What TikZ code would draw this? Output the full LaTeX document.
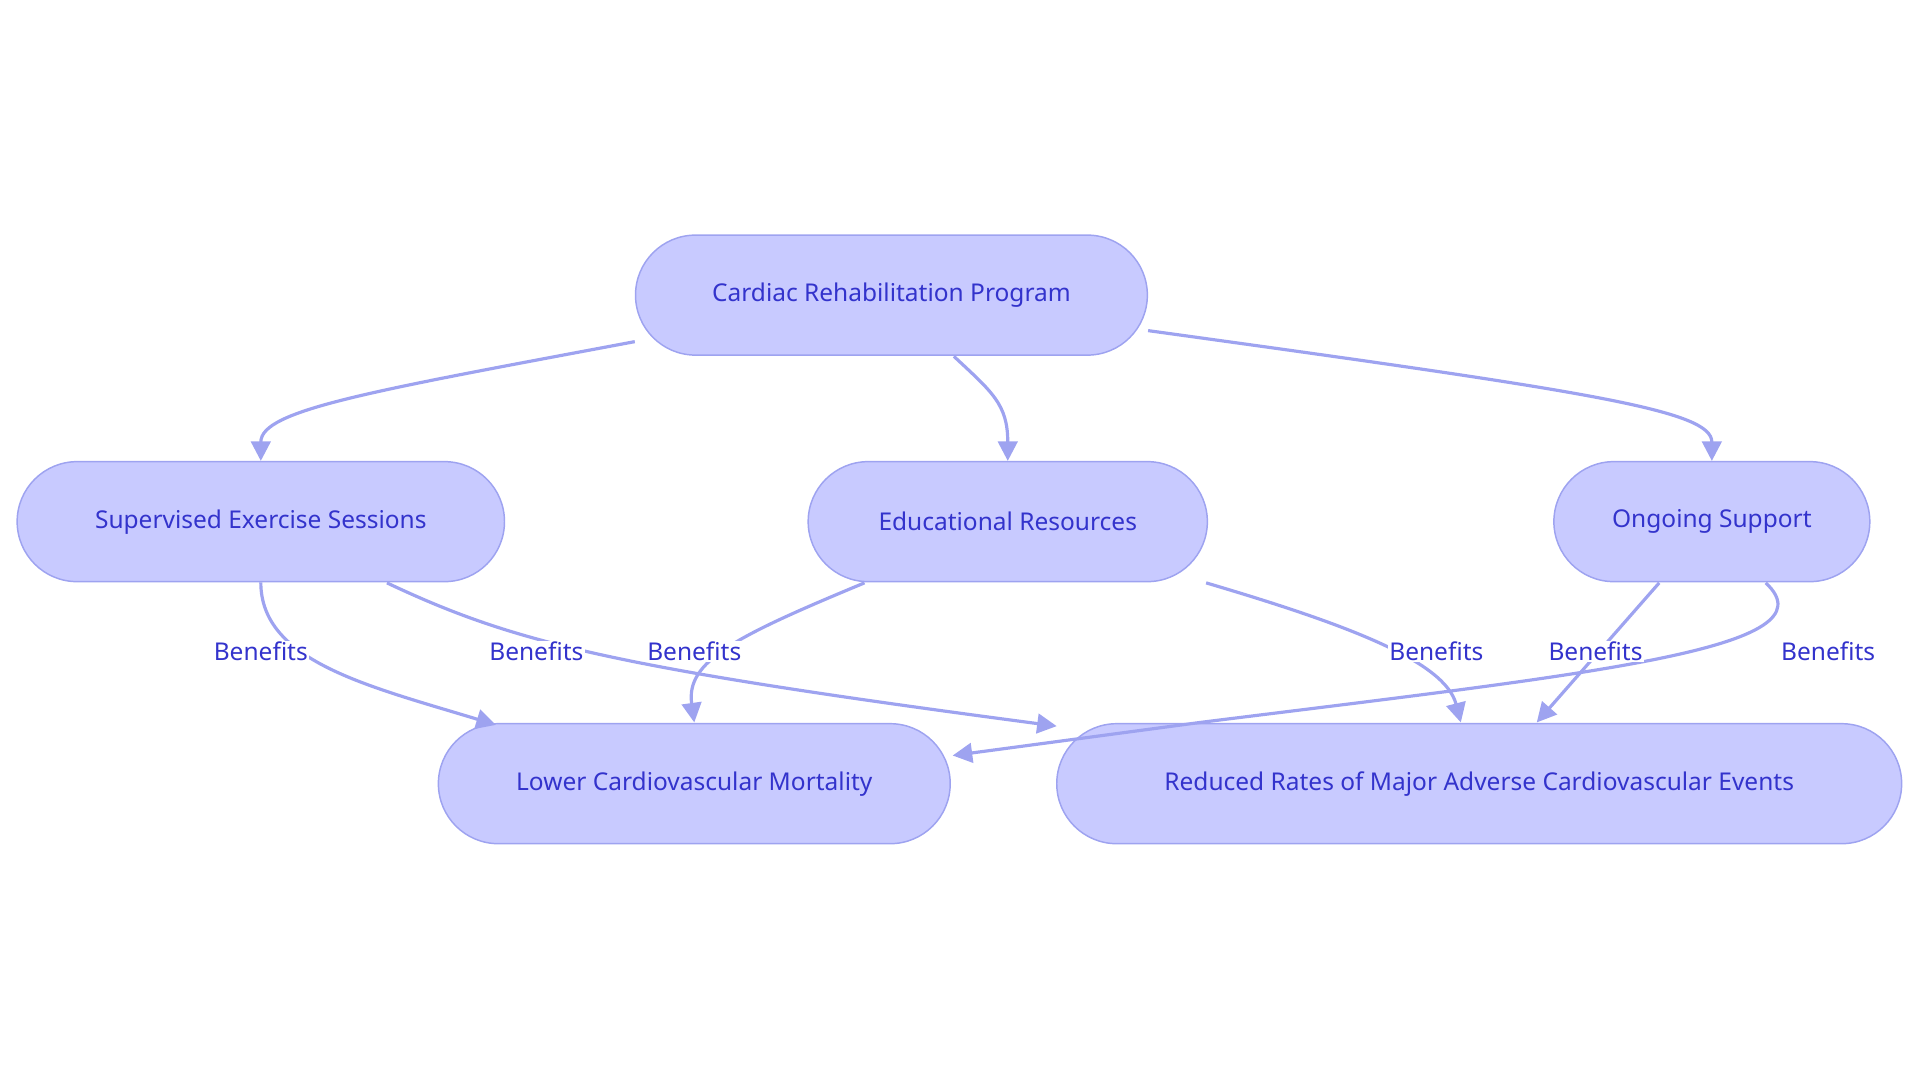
\documentclass[tikz,border=0pt]{standalone}
\usepackage{fontspec}
\setmainfont{Noto Sans}
\usetikzlibrary{arrows.meta}
\definecolor{nfill}{HTML}{C8CAFF}
\definecolor{nline}{HTML}{9EA3F0}
\definecolor{ntext}{HTML}{3333CC}
\begin{document}
\begin{tikzpicture}[x=1pt,y=-1pt,
  box/.style={draw=nline,fill=nfill,line width=1.2pt,rounded corners=49pt,minimum height=98pt,text=ntext,font=\fontsize{20}{24}\selectfont,inner sep=0pt},
  edge/.style={draw=nline,line width=2.6pt,-{Triangle[length=16pt,width=16pt]}},
  lab/.style={fill=white,text=ntext,font=\fontsize{20}{24}\selectfont,inner sep=1pt}]
\useasboundingbox (0,0) rectangle (1568,884);
\node[box,minimum width=418pt] (c) at (728,241) {Cardiac Rehabilitation Program};
\node[box,minimum width=398pt] (s) at (213,426) {Supervised Exercise Sessions};
\node[box,minimum width=326pt] (e) at (823,426) {Educational Resources};
\node[box,minimum width=258pt] (o) at (1398,426) {Ongoing Support};
\node[box,minimum width=418pt] (l) at (567,640) {Lower Cardiovascular Mortality};
\node[box,minimum width=690pt] (r) at (1208,640) {Reduced Rates of Major Adverse Cardiovascular Events};

\draw[edge] (c.west|-0,279) .. controls (300,320) and (213,335) .. (s.north);
\draw[edge] (779,291) .. controls (810,320) and (823,330) .. (e.north);
\draw[edge] (c.east|-0,270) .. controls (1300,320) and (1398,335) .. (o.north);

\draw[edge] (s.south) .. controls (213,540) and (300,560) .. (405,592);
\draw[edge] (316,476) .. controls (420,525) and (500,545) .. (863,593);
\draw[edge] (706,476) .. controls (600,520) and (560,540) .. (567,590);
\draw[edge] (985,476) .. controls (1100,510) and (1180,540) .. (1193,590);
\draw[edge] (1355,476) -- (1255,590);
\draw[edge] (1442,476) .. controls (1500,530) and (1300,550) .. (980,590) -- (778,617);

\node[lab] (b1) at (213,532) {Benefits};
\node[lab] (b2) at (438,532) {Benefits};
\node[lab] (b3) at (567,532) {Benefits};
\node[lab] (b4) at (1173,532) {Benefits};
\node[lab] (b5) at (1303,532) {Benefits};
\node[lab] (b6) at (1493,532) {Benefits};
\end{tikzpicture}
\end{document}
